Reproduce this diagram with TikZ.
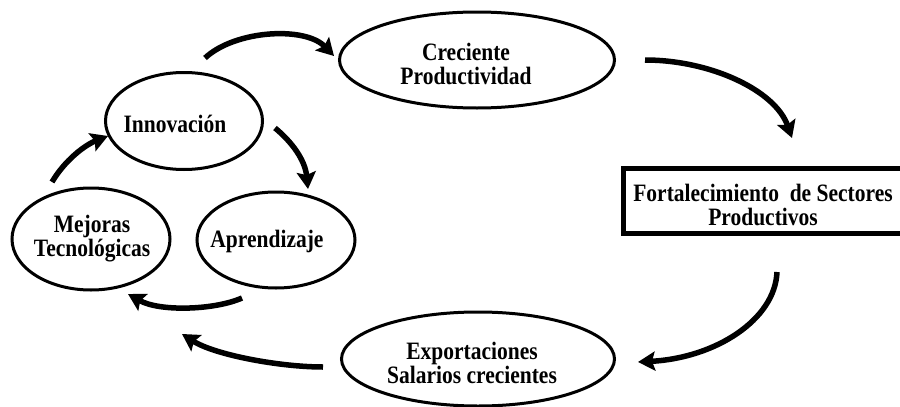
\documentclass[tikz,border=0pt]{standalone}
\usepackage{fontspec}
\setmainfont{Liberation Serif}[FakeStretch=0.86]
\usetikzlibrary{shapes.geometric,arrows.meta}
\begin{document}
\begin{tikzpicture}[x=1pt,y=-1pt,
  oval/.style={draw,ellipse,line width=3pt,inner sep=0pt},
  lbl/.style={font=\fontsize{25}{24}\selectfont\bfseries,align=center,inner sep=0pt},
  fat/.style={line width=5.5pt,-{Stealth[length=17pt,width=19pt,inset=3pt]}}]
\useasboundingbox (0,0) rectangle (900,407);
% nodes
\node[oval,minimum width=157pt,minimum height=97pt] (innov) at (184,121) {};
\node[oval,minimum width=158pt,minimum height=102pt] (mejor) at (91,239) {};
\node[oval,minimum width=158pt,minimum height=96pt] (aprend) at (276,240) {};
\node[oval,minimum width=275pt,minimum height=96pt] (crec) at (477,60) {};
\node[oval,minimum width=273pt,minimum height=94pt] (expo) at (478,359) {};
\node[draw,line width=5pt,minimum width=280pt,minimum height=65pt,inner sep=0pt] (fort) at (763,200.5) {};
% texts
\node[lbl] (innovT) at (175,124) {Innovación};
\node[lbl] (mejorT) at (92,239) {Mejoras\\Tecnológicas};
\node[lbl] (aprendT) at (267,241) {Aprendizaje};
\node[lbl] (crecT) at (466,64) {Creciente\\Productividad};
\node[lbl] (expoT) at (472,363) {Exportaciones\\Salarios crecientes};
\node[lbl] (fortT) at (763,205) {Fortalecimiento\ \ de Sectores\\Productivos};
% arrow end points
\coordinate (a1s) at (205,58);  \coordinate (a1e) at (334,56);
\coordinate (a2s) at (645,60);  \coordinate (a2e) at (792,138);
\coordinate (a3s) at (777,272); \coordinate (a3e) at (638,362);
\coordinate (a4s) at (323,367); \coordinate (a4e) at (182,334);
\coordinate (a5s) at (242,298); \coordinate (a5e) at (128,294);
\coordinate (a6s) at (52,182);  \coordinate (a6e) at (108,136);
\coordinate (a7s) at (275,128); \coordinate (a7e) at (308,189);
% arrows
\draw[fat] (a1s) .. controls (235,30) and (305,26) .. (a1e);
\draw[fat] (a2s) .. controls (710,60) and (775,90) .. (a2e);
\draw[fat] (a3s) .. controls (775,320) and (715,358) .. (a3e);
\draw[fat] (a4s) .. controls (280,367) and (215,355) .. (a4e);
\draw[fat] (a5s) .. controls (215,310) and (160,312) .. (a5e);
\draw[fat] (a6s) .. controls (65,160) and (85,145) .. (a6e);
\draw[fat] (a7s) .. controls (292,142) and (305,160) .. (a7e);
\end{tikzpicture}
\end{document}
